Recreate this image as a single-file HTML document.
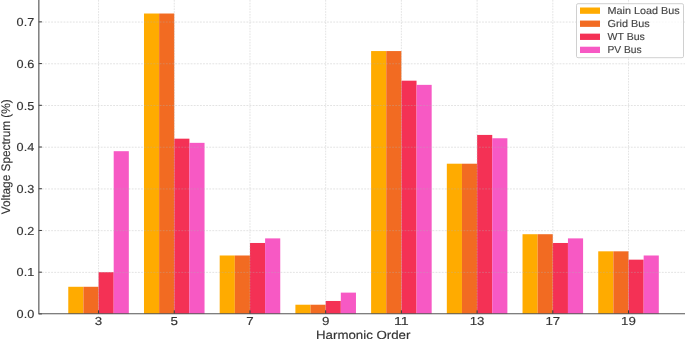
<!DOCTYPE html>
<html><head><meta charset="utf-8"><style>
html,body{margin:0;padding:0;background:#fff;width:685px;height:339px;overflow:hidden}
svg{display:block;font-family:"Liberation Sans",sans-serif;will-change:transform;text-rendering:geometricPrecision}
</style></head><body>
<svg width="685" height="339" viewBox="0 0 685 339" font-family="Liberation Sans, sans-serif"><rect x="68.27" y="286.782" width="15.14" height="27.118" fill="#FFAB00"/>
<rect x="83.41" y="286.782" width="15.14" height="27.118" fill="#F26B22"/>
<rect x="98.55" y="272.18" width="15.14" height="41.72" fill="#F43155"/>
<rect x="113.69" y="151.192" width="15.14" height="162.708" fill="#F759C4"/>
<rect x="143.98" y="13.516" width="15.14" height="300.384" fill="#FFAB00"/>
<rect x="159.12" y="13.516" width="15.14" height="300.384" fill="#F26B22"/>
<rect x="174.26" y="138.676" width="15.14" height="175.224" fill="#F43155"/>
<rect x="189.4" y="142.848" width="15.14" height="171.052" fill="#F759C4"/>
<rect x="219.69" y="255.492" width="15.14" height="58.408" fill="#FFAB00"/>
<rect x="234.83" y="255.492" width="15.14" height="58.408" fill="#F26B22"/>
<rect x="249.97" y="242.976" width="15.14" height="70.924" fill="#F43155"/>
<rect x="265.11" y="238.387" width="15.14" height="75.513" fill="#F759C4"/>
<rect x="295.4" y="304.722" width="15.14" height="9.178" fill="#FFAB00"/>
<rect x="310.54" y="304.722" width="15.14" height="9.178" fill="#F26B22"/>
<rect x="325.68" y="300.967" width="15.14" height="12.933" fill="#F43155"/>
<rect x="340.82" y="292.623" width="15.14" height="21.277" fill="#F759C4"/>
<rect x="371.11" y="51.064" width="15.14" height="262.836" fill="#FFAB00"/>
<rect x="386.25" y="51.064" width="15.14" height="262.836" fill="#F26B22"/>
<rect x="401.39" y="80.685" width="15.14" height="233.215" fill="#F43155"/>
<rect x="416.53" y="84.857" width="15.14" height="229.043" fill="#F759C4"/>
<rect x="446.82" y="163.708" width="15.14" height="150.192" fill="#FFAB00"/>
<rect x="461.96" y="163.708" width="15.14" height="150.192" fill="#F26B22"/>
<rect x="477.1" y="134.921" width="15.14" height="178.979" fill="#F43155"/>
<rect x="492.24" y="138.259" width="15.14" height="175.641" fill="#F759C4"/>
<rect x="522.53" y="234.215" width="15.14" height="79.685" fill="#FFAB00"/>
<rect x="537.67" y="234.215" width="15.14" height="79.685" fill="#F26B22"/>
<rect x="552.81" y="242.976" width="15.14" height="70.924" fill="#F43155"/>
<rect x="567.95" y="238.387" width="15.14" height="75.513" fill="#F759C4"/>
<rect x="598.24" y="251.32" width="15.14" height="62.58" fill="#FFAB00"/>
<rect x="613.38" y="251.32" width="15.14" height="62.58" fill="#F26B22"/>
<rect x="628.52" y="259.664" width="15.14" height="54.236" fill="#F43155"/>
<rect x="643.66" y="255.492" width="15.14" height="58.408" fill="#F759C4"/>
<g stroke="rgba(176,176,176,0.45)" stroke-width="0.8" stroke-dasharray="1.85 1.25"><line x1="38.75" y1="272.38" x2="685" y2="272.38"/><line x1="38.75" y1="230.66" x2="685" y2="230.66"/><line x1="38.75" y1="188.94" x2="685" y2="188.94"/><line x1="38.75" y1="147.22" x2="685" y2="147.22"/><line x1="38.75" y1="105.5" x2="685" y2="105.5"/><line x1="38.75" y1="63.78" x2="685" y2="63.78"/><line x1="38.75" y1="22.06" x2="685" y2="22.06"/></g>
<g stroke="rgba(176,176,176,0.45)" stroke-width="0.8" stroke-dasharray="1.65 1.14"><line x1="98.55" y1="0" x2="98.55" y2="313.9"/><line x1="174.26" y1="0" x2="174.26" y2="313.9"/><line x1="249.97" y1="0" x2="249.97" y2="313.9"/><line x1="325.68" y1="0" x2="325.68" y2="313.9"/><line x1="401.39" y1="0" x2="401.39" y2="313.9"/><line x1="477.1" y1="0" x2="477.1" y2="313.9"/><line x1="552.81" y1="0" x2="552.81" y2="313.9"/><line x1="628.52" y1="0" x2="628.52" y2="313.9"/></g>
<g stroke="#383838" stroke-width="1.0"><line x1="38.75" y1="313.9" x2="41.95" y2="313.9"/><line x1="38.75" y1="272.18" x2="41.95" y2="272.18"/><line x1="38.75" y1="230.46" x2="41.95" y2="230.46"/><line x1="38.75" y1="188.74" x2="41.95" y2="188.74"/><line x1="38.75" y1="147.02" x2="41.95" y2="147.02"/><line x1="38.75" y1="105.3" x2="41.95" y2="105.3"/><line x1="38.75" y1="63.58" x2="41.95" y2="63.58"/><line x1="38.75" y1="21.86" x2="41.95" y2="21.86"/><line x1="98.55" y1="313.9" x2="98.55" y2="310.3"/><line x1="174.26" y1="313.9" x2="174.26" y2="310.3"/><line x1="249.97" y1="313.9" x2="249.97" y2="310.3"/><line x1="325.68" y1="313.9" x2="325.68" y2="310.3"/><line x1="401.39" y1="313.9" x2="401.39" y2="310.3"/><line x1="477.1" y1="313.9" x2="477.1" y2="310.3"/><line x1="552.81" y1="313.9" x2="552.81" y2="310.3"/><line x1="628.52" y1="313.9" x2="628.52" y2="310.3"/></g>
<path d="M38.85 0 V313.75 H690" fill="none" stroke="#555555" stroke-width="1.15"/>
<g font-size="11.6" fill="#333333" stroke="#333333" stroke-width="0.15"><text x="34.2" y="318.15" text-anchor="end" textLength="17.6" lengthAdjust="spacingAndGlyphs">0.0</text><text x="34.2" y="276.43" text-anchor="end" textLength="17.6" lengthAdjust="spacingAndGlyphs">0.1</text><text x="34.2" y="234.71" text-anchor="end" textLength="17.6" lengthAdjust="spacingAndGlyphs">0.2</text><text x="34.2" y="192.99" text-anchor="end" textLength="17.6" lengthAdjust="spacingAndGlyphs">0.3</text><text x="34.2" y="151.27" text-anchor="end" textLength="17.6" lengthAdjust="spacingAndGlyphs">0.4</text><text x="34.2" y="109.55" text-anchor="end" textLength="17.6" lengthAdjust="spacingAndGlyphs">0.5</text><text x="34.2" y="67.83" text-anchor="end" textLength="17.6" lengthAdjust="spacingAndGlyphs">0.6</text><text x="34.2" y="26.11" text-anchor="end" textLength="17.6" lengthAdjust="spacingAndGlyphs">0.7</text></g>
<g font-size="11.6" fill="#333333" stroke="#333333" stroke-width="0.15"><text x="98.55" y="325.4" text-anchor="middle" textLength="7.412" lengthAdjust="spacingAndGlyphs">3</text><text x="174.26" y="325.4" text-anchor="middle" textLength="7.412" lengthAdjust="spacingAndGlyphs">5</text><text x="249.97" y="325.4" text-anchor="middle" textLength="7.412" lengthAdjust="spacingAndGlyphs">7</text><text x="325.68" y="325.4" text-anchor="middle" textLength="7.412" lengthAdjust="spacingAndGlyphs">9</text><text x="401.39" y="325.4" text-anchor="middle" textLength="14.824" lengthAdjust="spacingAndGlyphs">11</text><text x="477.1" y="325.4" text-anchor="middle" textLength="14.824" lengthAdjust="spacingAndGlyphs">13</text><text x="552.81" y="325.4" text-anchor="middle" textLength="14.824" lengthAdjust="spacingAndGlyphs">17</text><text x="628.52" y="325.4" text-anchor="middle" textLength="14.824" lengthAdjust="spacingAndGlyphs">19</text></g>
<text x="363.2" y="339.0" text-anchor="middle" font-size="11.9" fill="#333333" stroke="#333333" stroke-width="0.15" textLength="94.4" lengthAdjust="spacingAndGlyphs">Harmonic Order</text>
<text transform="translate(9.8,156.75) rotate(-90)" x="0" y="0" text-anchor="middle" font-size="12.3" fill="#333333" stroke="#333333" stroke-width="0.15" textLength="114.9" lengthAdjust="spacingAndGlyphs">Voltage Spectrum (%)</text>
<rect x="576.5" y="3.7" width="107" height="54" rx="1.5" fill="rgba(255,255,255,0.8)" stroke="#d0d0d0" stroke-width="1"/><rect x="580" y="7.5" width="20" height="6.3" fill="#FFAB00"/><text x="607.5" y="13.84" font-size="10.2" fill="#444444" stroke="#444444" stroke-width="0.15" textLength="72.119" lengthAdjust="spacingAndGlyphs">Main Load Bus</text><rect x="580" y="20.57" width="20" height="6.3" fill="#F26B22"/><text x="607.5" y="26.91" font-size="10.2" fill="#444444" stroke="#444444" stroke-width="0.15" textLength="42.275" lengthAdjust="spacingAndGlyphs">Grid Bus</text><rect x="580" y="33.64" width="20" height="6.3" fill="#F43155"/><text x="607.5" y="39.98" font-size="10.2" fill="#444444" stroke="#444444" stroke-width="0.15" textLength="37.32" lengthAdjust="spacingAndGlyphs">WT Bus</text><rect x="580" y="46.71" width="20" height="6.3" fill="#F759C4"/><text x="607.5" y="53.05" font-size="10.2" fill="#444444" stroke="#444444" stroke-width="0.15" textLength="34.217" lengthAdjust="spacingAndGlyphs">PV Bus</text></svg>
</body></html>
